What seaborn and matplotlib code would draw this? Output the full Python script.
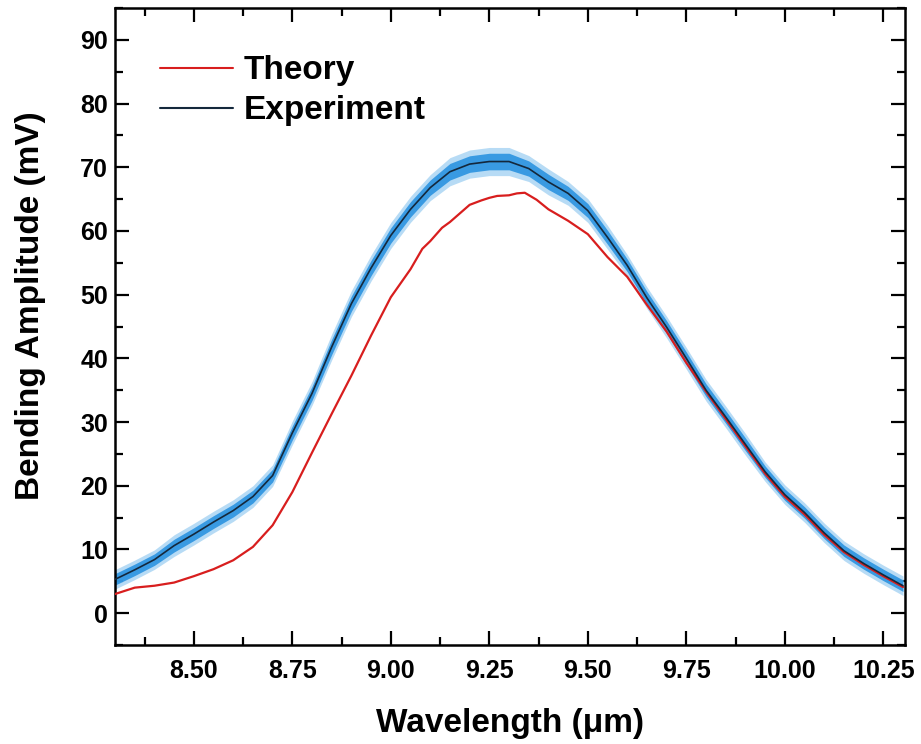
import numpy as np
import pandas as pd
import seaborn as sns
import matplotlib
matplotlib.use("Agg")
import matplotlib.pyplot as plt
from matplotlib.ticker import MultipleLocator, FormatStrFormatter

# Measured bending amplitude (mean of the experimental traces)
exp_wavelength = [8.30, 8.35, 8.40, 8.45, 8.50, 8.55, 8.60, 8.65, 8.70, 8.75,
                  8.80, 8.85, 8.90, 8.95, 9.00, 9.05, 9.10, 9.15, 9.20, 9.25,
                  9.30, 9.35, 9.40, 9.45, 9.50, 9.55, 9.60, 9.65, 9.70, 9.75,
                  9.80, 9.85, 9.90, 9.95, 10.00, 10.05, 10.10, 10.15, 10.20,
                  10.25, 10.30]
exp_amplitude = [5.3, 6.8, 8.4, 10.6, 12.4, 14.3, 16.1, 18.3, 21.6, 28.3,
                 34.5, 41.8, 48.6, 54.2, 59.3, 63.4, 66.8, 69.3, 70.5, 70.9,
                 70.9, 69.8, 67.7, 65.9, 63.2, 59.0, 54.6, 49.5, 44.9, 40.0,
                 35.0, 30.8, 26.5, 22.2, 18.6, 15.8, 12.6, 9.8, 7.8,
                 6.0, 4.3]
# Spread of the individual experimental traces around the mean
exp_spread = [0.9, 0.9, 0.9, 1.0, 1.0, 1.0, 1.0, 1.0, 1.0, 1.1,
              1.1, 1.2, 1.2, 1.2, 1.2, 1.2, 1.2, 1.3, 1.3, 1.3,
              1.3, 1.2, 1.2, 1.1, 1.1, 1.1, 1.0, 1.0, 1.0, 1.0,
              1.0, 1.0, 1.0, 0.9, 0.9, 0.9, 0.9, 0.9, 0.9,
              0.9, 0.9]

# Calculated bending amplitude
theory_wavelength = [8.30, 8.35, 8.40, 8.45, 8.50, 8.55, 8.60, 8.65, 8.70, 8.75,
                     8.80, 8.85, 8.90, 8.95, 9.00, 9.05, 9.08, 9.10, 9.13, 9.15,
                     9.20, 9.23, 9.25, 9.27, 9.30, 9.32, 9.34, 9.37, 9.40, 9.45,
                     9.50, 9.55, 9.60, 9.65, 9.70, 9.75, 9.80, 9.85, 9.90, 9.95,
                     10.00, 10.05, 10.10, 10.15, 10.20, 10.25, 10.30]
theory_amplitude = [3.0, 4.0, 4.3, 4.8, 5.8, 6.9, 8.3, 10.4, 13.8, 19.0,
                    25.2, 31.3, 37.3, 43.6, 49.6, 54.0, 57.2, 58.4, 60.5, 61.4,
                    64.1, 64.8, 65.2, 65.5, 65.6, 65.9, 66.0, 64.9, 63.4, 61.6,
                    59.5, 55.9, 52.8, 48.4, 44.2, 39.3, 34.8, 30.5, 26.2, 21.9,
                    18.3, 15.5, 12.3, 9.6, 7.6, 5.8, 4.1]

x_ticks = [8.50, 8.75, 9.00, 9.25, 9.50, 9.75, 10.00, 10.25]
y_ticks = [0, 10, 20, 30, 40, 50, 60, 70, 80, 90]

sns.set_theme(style="ticks")
plt.rcParams["font.family"] = ["Liberation Sans", "DejaVu Sans"]
plt.rcParams.update({
    "font.weight": "bold",
    "text.color": "black",
    "axes.labelcolor": "black",
    "xtick.color": "black",
    "ytick.color": "black",
    "xtick.labelcolor": "black",
    "ytick.labelcolor": "black",
})

exp_df = pd.DataFrame({"wavelength": exp_wavelength, "amplitude": exp_amplitude,
                       "spread": exp_spread})
theory_df = pd.DataFrame({"wavelength": theory_wavelength, "amplitude": theory_amplitude})

fig = plt.figure(figsize=(9.21, 7.44), dpi=100)
ax = fig.add_axes([0.1249, 0.1331, 0.8577, 0.8561])

w = exp_df["wavelength"].to_numpy()
a = exp_df["amplitude"].to_numpy()
s = exp_df["spread"].to_numpy()
# Shaded band of the experimental traces: outer halo and denser core
ax.fill_between(w, a - 1.7 * s, a + 1.7 * s, color="#9fd0f2", alpha=0.75, lw=0, zorder=1)
ax.fill_between(w, a - s, a + s, color="#2b93e0", alpha=0.9, lw=0, zorder=2)

sns.lineplot(data=theory_df, x="wavelength", y="amplitude", ax=ax, color="#d81e1e",
             lw=1.6, label="Theory", zorder=3, sort=False)
sns.lineplot(data=exp_df, x="wavelength", y="amplitude", ax=ax, color="#14283c",
             lw=1.2, label="Experiment", zorder=4, sort=False)

ax.set_xlim(8.30, 10.305)
ax.set_ylim(-5, 95)
ax.set_xticks(x_ticks)
ax.set_yticks(y_ticks)
ax.xaxis.set_major_formatter(FormatStrFormatter("%.2f"))
ax.xaxis.set_minor_locator(MultipleLocator(0.125))
ax.yaxis.set_minor_locator(MultipleLocator(5))

ax.tick_params(which="both", direction="in", top=True, right=True,
               width=1.6, color="black", labelsize=18, labelcolor="black")
ax.tick_params(axis="x", which="major", length=10, pad=10)
ax.tick_params(axis="y", which="major", length=10, pad=5)
ax.tick_params(which="minor", length=5.5)
for lab in ax.get_xticklabels() + ax.get_yticklabels():
    lab.set_fontweight("bold")
for sp in ax.spines.values():
    sp.set_linewidth(1.8)
    sp.set_color("black")

ax.set_xlabel("Wavelength (\u03bcm)", fontsize=24, fontweight="bold", labelpad=18,
              color="black")
ax.set_ylabel("Bending Amplitude (mV)", fontsize=24, fontweight="bold", color="black")
ax.yaxis.set_label_coords(-0.088, 0.532)

leg = ax.legend(loc="upper left", bbox_to_anchor=(0.057, 0.926), frameon=False,
                fontsize=24, handlelength=2.2, handletextpad=0.3,
                labelspacing=0.27, borderaxespad=0, borderpad=0)
for t in leg.get_texts():
    t.set_fontweight("bold")
    t.set_color("black")
for h in leg.get_lines():
    h.set_linewidth(1.5)

fig.savefig("out.png", dpi=100, facecolor="white")
